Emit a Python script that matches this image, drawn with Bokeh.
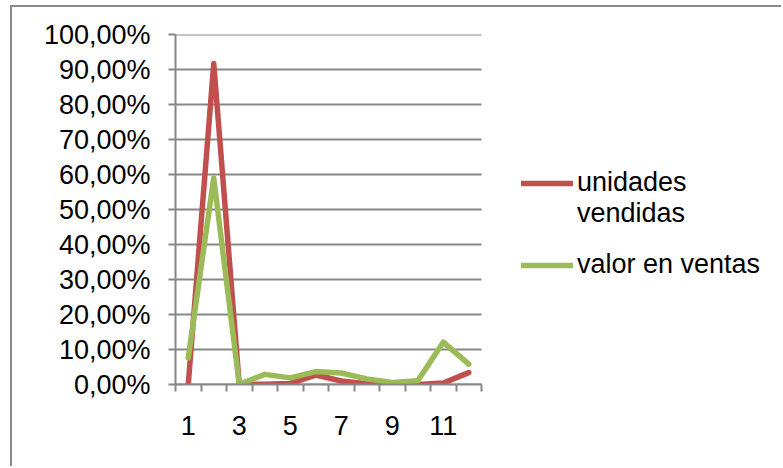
from bokeh.plotting import figure
from bokeh.models import Range1d, FixedTicker, Legend, LegendItem
from bokeh.embed import file_html
from bokeh.resources import INLINE

# ---- data ----
categorias = [1, 2, 3, 4, 5, 6, 7, 8, 9, 10, 11, 12]
unidades_vendidas = [0.0, 0.917, 0.0, 0.001, 0.003, 0.027, 0.010, 0.002, 0.0, 0.0, 0.004, 0.034]
valor_en_ventas = [0.076, 0.590, 0.0, 0.029, 0.019, 0.037, 0.033, 0.016, 0.006, 0.011, 0.121, 0.058]
y_ticks = [0.0, 0.1, 0.2, 0.3, 0.4, 0.5, 0.6, 0.7, 0.8, 0.9, 1.0]
y_tick_labels = ["0,00%", "10,00%", "20,00%", "30,00%", "40,00%", "50,00%",
                 "60,00%", "70,00%", "80,00%", "90,00%", "100,00%"]
x_ticks = [1, 3, 5, 7, 9, 11]
x_tick_labels = ["1", "3", "5", "7", "9", "11"]
legend_lines = ["unidades", "vendidas", " ", "valor en ventas"]

# ---- layout constants ----
W, H = 771, 461
FONT = "Liberation Sans"
GRAY = "#878787"
RED = "#C0504D"
GREEN = "#9BBB59"
CAT_PX = 25.5
LEFT, RIGHT, TOP, BOTTOM = 163, 2, 27, 84
frame_w = W - LEFT - RIGHT
x_lo = categorias[0] - 0.5
x_hi_cat = categorias[-1] + 0.5
x_end = x_lo + frame_w / CAT_PX

p = figure(width=W, height=H, output_backend="svg", toolbar_location=None,
           x_range=Range1d(x_lo, x_end), y_range=Range1d(0.0, 1.0),
           min_border_left=LEFT, min_border_top=TOP, min_border_right=RIGHT,
           min_border_bottom=BOTTOM)
p.margin = (5, 0, 0, 10)
p.styles = {"border-left": "2px solid #8a8a8a", "border-top": "2px solid #8a8a8a"}
p.outline_line_color = None
p.background_fill_color = "white"
p.border_fill_color = "white"

# grid (limited to the category span)
p.xgrid.visible = False
p.ygrid.visible = False
p.segment(x0=[x_lo] * len(y_ticks), x1=[x_hi_cat] * len(y_ticks), y0=y_ticks, y1=y_ticks,
          line_color=GRAY, line_width=2)

# y axis
ya = p.yaxis[0]
ya.ticker = FixedTicker(ticks=y_ticks, minor_ticks=[])
ya.major_label_overrides = {t: l for t, l in zip(y_ticks, y_tick_labels)}
ya.axis_line_color = GRAY
ya.axis_line_width = 2
ya.major_tick_line_color = GRAY
ya.major_tick_line_width = 2
ya.major_tick_in = 0
ya.major_tick_out = 7
ya.minor_tick_line_color = None
ya.major_label_standoff = 18
ya.major_label_text_font = FONT
ya.major_label_text_font_size = "27px"
ya.major_label_text_color = "black"

# x axis
xa = p.xaxis[0]
xa.bounds = (x_lo, x_hi_cat)
xa.ticker = FixedTicker(ticks=x_ticks, minor_ticks=[c - 0.5 for c in categorias] + [x_hi_cat])
xa.major_label_overrides = {t: l for t, l in zip(x_ticks, x_tick_labels)}
xa.axis_line_color = GRAY
xa.axis_line_width = 2
xa.major_tick_line_color = None
xa.major_tick_in = 0
xa.major_tick_out = 7
xa.minor_tick_line_color = GRAY
xa.minor_tick_line_width = 2
xa.minor_tick_in = 0
xa.minor_tick_out = 7
xa.major_label_standoff = 24
xa.major_label_text_font = FONT
xa.major_label_text_font_size = "27px"
xa.major_label_text_color = "black"

# series
r1 = p.line(categorias, unidades_vendidas, line_color=RED, line_width=5.5,
            line_join="round", line_cap="round")
r2 = p.line(categorias, valor_en_ventas, line_color=GREEN, line_width=5.5,
            line_join="round", line_cap="round")
r_blank = p.line([], [], line_alpha=0)

legend = Legend(
    items=[LegendItem(label=legend_lines[0], renderers=[r1]),
           LegendItem(label=legend_lines[1], renderers=[r_blank]),
           LegendItem(label=legend_lines[2], renderers=[r_blank]),
           LegendItem(label=legend_lines[3], renderers=[r2])],
    location=(346, 104),
    glyph_width=52, glyph_height=20, label_standoff=4,
    padding=0, margin=0, spacing=-4,
    border_line_color=None, background_fill_alpha=0,
    label_text_font=FONT, label_text_font_size="27px",
    label_text_color="black")
p.add_layout(legend, "center")

open("out.html", "w").write(file_html(p, INLINE))
